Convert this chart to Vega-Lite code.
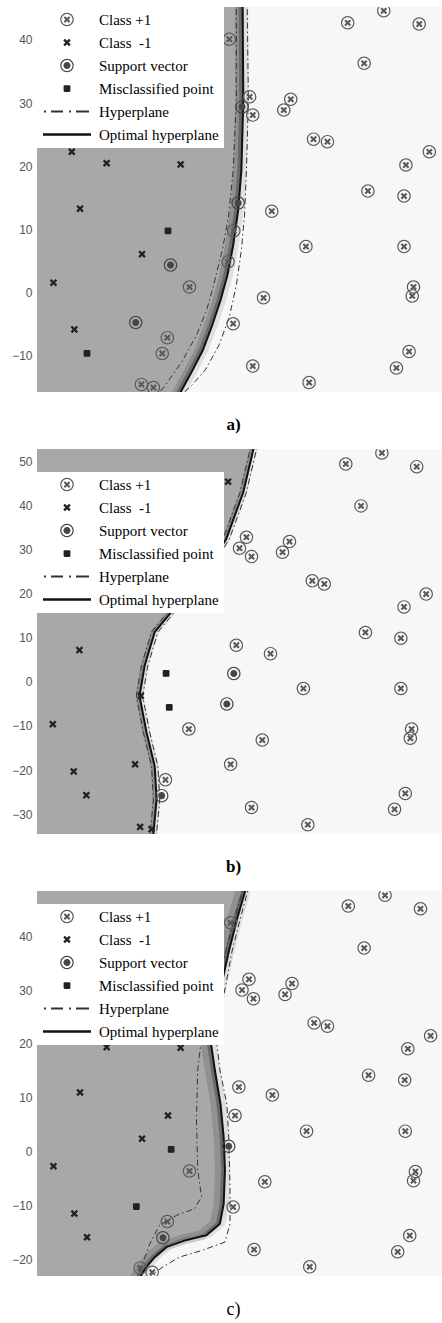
{
  "$schema": "https://vega.github.io/schema/vega-lite/v6.json",
  "padding": {"left": 0, "top": 7, "right": 0, "bottom": 0},
  "background": "white",
  "spacing": 16,
  "config": {
    "view": {"stroke": null, "fill": "#f7f7f7"},
    "axisY": {"ticks": false, "domain": false, "grid": false, "labelFont": "Liberation Sans", "labelFontSize": 12, "labelColor": "#555555", "labelPadding": 5, "minExtent": 37, "maxExtent": 37},
    "legend": {"fillColor": "white", "padding": 5, "symbolSize": 225, "symbolOffset": 17.5, "labelOffset": 24.5, "labelFont": "Liberation Serif", "labelFontSize": 15, "labelColor": "#000000", "rowPadding": 7, "symbolStrokeWidth": 0, "labelLimit": 300},
    "title": {"font": "Liberation Serif", "fontSize": 17, "color": "#000000", "orient": "bottom", "anchor": "middle", "frame": "group", "offset": 25, "dx": -6}
  },
  "datasets": {
    "a_pts": [
      {"x":30.4,"y":40.1,"c":"Class +1"},{"x":33.6,"y":31.0,"c":"Class +1"},{"x":34.1,"y":28.1,"c":"Class +1"},{"x":40.1,"y":30.6,"c":"Class +1"},{"x":39.0,"y":28.9,"c":"Class +1"},{"x":43.7,"y":24.3,"c":"Class +1"},{"x":45.9,"y":23.9,"c":"Class +1"},{"x":49.1,"y":42.7,"c":"Class +1"},{"x":54.8,"y":44.6,"c":"Class +1"},{"x":60.4,"y":42.5,"c":"Class +1"},{"x":51.7,"y":36.3,"c":"Class +1"},{"x":62.0,"y":22.3,"c":"Class +1"},{"x":58.3,"y":20.2,"c":"Class +1"},{"x":52.3,"y":16.1,"c":"Class +1"},{"x":58.0,"y":15.3,"c":"Class +1"},{"x":37.1,"y":12.9,"c":"Class +1"},{"x":31.1,"y":9.8,"c":"Class +1"},{"x":30.2,"y":4.9,"c":"Class +1"},{"x":42.5,"y":7.3,"c":"Class +1"},{"x":58.0,"y":7.3,"c":"Class +1"},{"x":59.5,"y":0.9,"c":"Class +1"},{"x":59.3,"y":-0.5,"c":"Class +1"},{"x":24.1,"y":0.9,"c":"Class +1"},{"x":35.8,"y":-0.8,"c":"Class +1"},{"x":31.0,"y":-4.9,"c":"Class +1"},{"x":20.6,"y":-7.1,"c":"Class +1"},{"x":19.8,"y":-9.6,"c":"Class +1"},{"x":34.1,"y":-11.6,"c":"Class +1"},{"x":58.8,"y":-9.3,"c":"Class +1"},{"x":56.8,"y":-11.9,"c":"Class +1"},{"x":43.0,"y":-14.2,"c":"Class +1"},{"x":16.5,"y":-14.5,"c":"Class +1"},{"x":18.4,"y":-15.0,"c":"Class +1"},
      {"x":32.4,"y":29.4,"c":"Support vector"},{"x":31.8,"y":14.2,"c":"Support vector"},{"x":21.1,"y":4.4,"c":"Support vector"},{"x":15.6,"y":-4.7,"c":"Support vector"},
      {"x":20.7,"y":9.8,"c":"Misclassified point"},{"x":7.9,"y":-9.6,"c":"Misclassified point"},
      {"x":5.5,"y":22.3,"c":"Class\u00a0 -1"},{"x":11.0,"y":20.5,"c":"Class\u00a0 -1"},{"x":22.7,"y":20.3,"c":"Class\u00a0 -1"},{"x":6.8,"y":13.3,"c":"Class\u00a0 -1"},{"x":16.6,"y":6.1,"c":"Class\u00a0 -1"},{"x":2.6,"y":1.6,"c":"Class\u00a0 -1"},{"x":5.9,"y":-5.8,"c":"Class\u00a0 -1"}
    ],
    "a_opt": [
      {"x":32.5,"y":47},{"x":32.5,"y":45.2},{"x":32.6,"y":30.5},{"x":32.3,"y":19.4},{"x":31.8,"y":13.1},{"x":31.0,"y":7.5},{"x":30.1,"y":2.8},{"x":29.0,"y":-1.2},{"x":27.7,"y":-5.1},{"x":26.2,"y":-9.1},{"x":24.4,"y":-12.6},{"x":22.7,"y":-15.7},{"x":22.2,"y":-16.5}
    ],
    "a_hl": [
      {"x":31.5,"y":47},{"x":31.5,"y":30.5},{"x":31.0,"y":19.4},{"x":30.3,"y":12.3},{"x":29.3,"y":6.8},{"x":27.9,"y":1.2},{"x":26.8,"y":-2.8},{"x":25.2,"y":-6.7},{"x":22.9,"y":-10.9},{"x":20.3,"y":-14.6},{"x":19.4,"y":-15.7},{"x":18.8,"y":-16.5}
    ],
    "a_hr": [
      {"x":33.2,"y":47},{"x":33.4,"y":30.5},{"x":33.1,"y":19.4},{"x":32.8,"y":12.3},{"x":32.3,"y":6.8},{"x":31.5,"y":1.2},{"x":30.4,"y":-3.8},{"x":28.8,"y":-8.2},{"x":26.6,"y":-12.2},{"x":24.5,"y":-14.6},{"x":23.3,"y":-15.7},{"x":22.7,"y":-16.5}
    ],
    "b_pts": [
      {"x":33.1,"y":32.8,"c":"Class +1"},{"x":32.0,"y":30.3,"c":"Class +1"},{"x":33.9,"y":28.4,"c":"Class +1"},{"x":39.9,"y":31.8,"c":"Class +1"},{"x":38.8,"y":29.4,"c":"Class +1"},{"x":43.5,"y":22.9,"c":"Class +1"},{"x":45.4,"y":22.2,"c":"Class +1"},{"x":48.8,"y":49.4,"c":"Class +1"},{"x":54.5,"y":51.9,"c":"Class +1"},{"x":60.0,"y":48.8,"c":"Class +1"},{"x":51.2,"y":39.9,"c":"Class +1"},{"x":61.5,"y":19.9,"c":"Class +1"},{"x":58.0,"y":17.0,"c":"Class +1"},{"x":51.9,"y":11.2,"c":"Class +1"},{"x":57.5,"y":9.9,"c":"Class +1"},{"x":31.5,"y":8.3,"c":"Class +1"},{"x":36.9,"y":6.4,"c":"Class +1"},{"x":42.1,"y":-1.5,"c":"Class +1"},{"x":57.5,"y":-1.5,"c":"Class +1"},{"x":59.2,"y":-10.7,"c":"Class +1"},{"x":59.0,"y":-12.8,"c":"Class +1"},{"x":24.0,"y":-10.7,"c":"Class +1"},{"x":35.6,"y":-13.2,"c":"Class +1"},{"x":30.6,"y":-18.7,"c":"Class +1"},{"x":20.3,"y":-22.2,"c":"Class +1"},{"x":33.9,"y":-28.5,"c":"Class +1"},{"x":42.8,"y":-32.4,"c":"Class +1"},{"x":58.2,"y":-25.3,"c":"Class +1"},{"x":56.5,"y":-28.9,"c":"Class +1"},
      {"x":31.1,"y":1.9,"c":"Support vector"},{"x":30.0,"y":-5.0,"c":"Support vector"},{"x":19.7,"y":-25.8,"c":"Support vector"},
      {"x":20.4,"y":1.9,"c":"Misclassified point"},{"x":20.9,"y":-5.8,"c":"Misclassified point"},
      {"x":30.2,"y":45.4,"c":"Class\u00a0 -1"},{"x":6.7,"y":7.2,"c":"Class\u00a0 -1"},{"x":2.5,"y":-9.6,"c":"Class\u00a0 -1"},{"x":16.4,"y":-3.2,"c":"Class\u00a0 -1"},{"x":15.5,"y":-18.7,"c":"Class\u00a0 -1"},{"x":5.8,"y":-20.3,"c":"Class\u00a0 -1"},{"x":7.8,"y":-25.7,"c":"Class\u00a0 -1"},{"x":16.3,"y":-32.9,"c":"Class\u00a0 -1"},{"x":18.1,"y":-33.4,"c":"Class\u00a0 -1"}
    ],
    "b_opt": [
      {"x":34.7,"y":55},{"x":34.2,"y":52.8},{"x":32.6,"y":43.0},{"x":29.9,"y":32.4},{"x":26.0,"y":23.3},{"x":21.2,"y":15.8},{"x":18.6,"y":11.3},{"x":17.0,"y":3.6},{"x":16.2,"y":-3.2},{"x":17.3,"y":-11.4},{"x":18.6,"y":-19.1},{"x":18.9,"y":-26.6},{"x":18.4,"y":-34.3},{"x":18.3,"y":-36}
    ],
    "b_hl": [
      {"x":34.2,"y":55},{"x":33.7,"y":52.8},{"x":32.1,"y":43.0},{"x":29.4,"y":32.4},{"x":25.5,"y":23.3},{"x":20.7,"y":15.8},{"x":18.1,"y":11.3},{"x":16.5,"y":3.6},{"x":15.7,"y":-3.2},{"x":16.8,"y":-11.4},{"x":18.1,"y":-19.1},{"x":18.4,"y":-26.6},{"x":17.9,"y":-34.3},{"x":17.8,"y":-36}
    ],
    "b_hr": [
      {"x":35.2,"y":55},{"x":34.7,"y":52.8},{"x":33.1,"y":43.0},{"x":30.4,"y":32.4},{"x":26.5,"y":23.3},{"x":21.7,"y":15.8},{"x":19.1,"y":11.3},{"x":17.5,"y":3.6},{"x":16.7,"y":-3.2},{"x":17.8,"y":-11.4},{"x":19.1,"y":-19.1},{"x":19.4,"y":-26.6},{"x":18.9,"y":-34.3},{"x":18.8,"y":-36}
    ],
    "c_pts": [
      {"x":30.6,"y":42.5,"c":"Class +1"},{"x":33.5,"y":32.0,"c":"Class +1"},{"x":32.4,"y":30.0,"c":"Class +1"},{"x":34.2,"y":28.4,"c":"Class +1"},{"x":40.3,"y":31.2,"c":"Class +1"},{"x":39.2,"y":29.2,"c":"Class +1"},{"x":43.8,"y":23.9,"c":"Class +1"},{"x":45.9,"y":23.3,"c":"Class +1"},{"x":49.2,"y":45.6,"c":"Class +1"},{"x":55.0,"y":47.6,"c":"Class +1"},{"x":60.6,"y":45.1,"c":"Class +1"},{"x":51.7,"y":37.8,"c":"Class +1"},{"x":62.2,"y":21.5,"c":"Class +1"},{"x":58.6,"y":19.1,"c":"Class +1"},{"x":52.4,"y":14.2,"c":"Class +1"},{"x":58.1,"y":13.3,"c":"Class +1"},{"x":31.9,"y":12.0,"c":"Class +1"},{"x":37.2,"y":10.5,"c":"Class +1"},{"x":31.3,"y":6.7,"c":"Class +1"},{"x":42.6,"y":3.8,"c":"Class +1"},{"x":58.2,"y":3.8,"c":"Class +1"},{"x":59.8,"y":-3.7,"c":"Class +1"},{"x":59.5,"y":-5.4,"c":"Class +1"},{"x":24.1,"y":-3.6,"c":"Class +1"},{"x":36.0,"y":-5.6,"c":"Class +1"},{"x":31.0,"y":-10.3,"c":"Class +1"},{"x":20.6,"y":-13.0,"c":"Class +1"},{"x":34.3,"y":-18.2,"c":"Class +1"},{"x":43.1,"y":-21.4,"c":"Class +1"},{"x":58.9,"y":-15.6,"c":"Class +1"},{"x":57.0,"y":-18.6,"c":"Class +1"},{"x":16.3,"y":-21.6,"c":"Class +1"},{"x":18.2,"y":-22.4,"c":"Class +1"},
      {"x":30.3,"y":1.0,"c":"Support vector"},{"x":19.9,"y":-16.0,"c":"Support vector"},
      {"x":21.2,"y":0.4,"c":"Misclassified point"},{"x":15.7,"y":-10.2,"c":"Misclassified point"},
      {"x":11.0,"y":19.4,"c":"Class\u00a0 -1"},{"x":22.7,"y":19.3,"c":"Class\u00a0 -1"},{"x":6.8,"y":11.0,"c":"Class\u00a0 -1"},{"x":20.7,"y":6.7,"c":"Class\u00a0 -1"},{"x":16.6,"y":2.4,"c":"Class\u00a0 -1"},{"x":2.6,"y":-2.7,"c":"Class\u00a0 -1"},{"x":5.9,"y":-11.5,"c":"Class\u00a0 -1"},{"x":7.9,"y":-15.9,"c":"Class\u00a0 -1"}
    ],
    "c_opt": [
      {"x":33.3,"y":50},{"x":32.9,"y":48.4},{"x":31.7,"y":43.6},{"x":30.3,"y":37.1},{"x":28.9,"y":29.7},{"x":27.8,"y":23.2},{"x":27.5,"y":20.0},{"x":28.1,"y":15.2},{"x":29.0,"y":8.8},{"x":29.5,"y":2.7},{"x":29.7,"y":-3.4},{"x":29.5,"y":-9.7},{"x":28.9,"y":-13.4},{"x":26.8,"y":-15.5},{"x":23.6,"y":-16.4},{"x":20.5,"y":-17.7},{"x":18.6,"y":-19.6},{"x":17.3,"y":-21.4},{"x":16.5,"y":-22.9},{"x":16.2,"y":-24}
    ],
    "c_hl": [
      {"x":32.9,"y":50},{"x":32.5,"y":48.4},{"x":31.3,"y":43.6},{"x":29.8,"y":37.1},{"x":25.9,"y":20.0},{"x":25.4,"y":15.2},{"x":25.2,"y":5.9},{"x":25.4,"y":-3.4},{"x":26.0,"y":-8.4},{"x":24.9,"y":-10.6},{"x":22.1,"y":-11.8},{"x":19.4,"y":-13.6},{"x":17.8,"y":-17.2},{"x":16.5,"y":-21.4},{"x":15.9,"y":-23.0},{"x":15.7,"y":-24}
    ],
    "c_hr": [
      {"x":33.7,"y":50},{"x":33.3,"y":48.4},{"x":32.2,"y":43.6},{"x":30.8,"y":37.1},{"x":28.3,"y":21.3},{"x":28.9,"y":15.2},{"x":30.0,"y":8.8},{"x":30.3,"y":2.7},{"x":30.5,"y":-6.6},{"x":30.5,"y":-13.4},{"x":29.7,"y":-16.8},{"x":26.2,"y":-18.3},{"x":22.5,"y":-19.6},{"x":19.9,"y":-21.4},{"x":17.8,"y":-23.2},{"x":17.4,"y":-24}
    ]
  },
  "vconcat": [
    {
      "width": 405, "height": 385,
      "title": {"text": "a)", "fontWeight": "bold"},
      "encoding": {
        "x": {"field": "x", "type": "quantitative", "scale": {"domain": [0, 64], "nice": false, "zero": false}, "axis": null},
        "y": {"field": "y", "type": "quantitative", "scale": {"domain": [-15.7, 45.2], "nice": false, "zero": false}, "axis": {"values": [-10, 0, 10, 20, 30, 40], "title": null, "labelColor": "#555555"}}
      },
      "layer": [
        {"data": {"name": "a_opt"}, "mark": {"type": "area", "orient": "horizontal", "color": "#a8a8a8", "clip": true}, "encoding": {"x2": {"datum": 0}}},
        {"data": {"name": "a_opt"}, "mark": {"type": "line", "xOffset": -4, "strokeWidth": 8, "color": "#555555", "opacity": 0.3, "clip": true}, "encoding": {"order": {"value": null}}},
        {"data": {"name": "a_opt"}, "mark": {"type": "line", "xOffset": -2, "strokeWidth": 4, "color": "#333333", "opacity": 0.4, "clip": true}, "encoding": {"order": {"value": null}}},
        {"data": {"name": "a_opt"}, "mark": {"type": "line", "xOffset": 3, "strokeWidth": 5, "color": "#cfcfcf", "opacity": 0.6, "clip": true}, "encoding": {"order": {"value": null}}},
        {"data": {"name": "a_opt"}, "mark": {"type": "line", "strokeWidth": 2, "color": "#111111", "clip": true}, "encoding": {"order": {"value": null}}},
        {"data": {"name": "a_hl"}, "mark": {"type": "line", "strokeWidth": 1, "color": "#333333", "strokeDash": [6, 3, 1.5, 3], "clip": true}, "encoding": {"order": {"value": null}}},
        {"data": {"name": "a_hr"}, "mark": {"type": "line", "strokeWidth": 1, "color": "#333333", "strokeDash": [6, 3, 1.5, 3], "clip": true}, "encoding": {"order": {"value": null}}},
        {
          "data": {"name": "a_pts"},
          "mark": {"type": "point", "filled": true, "size": 225, "strokeWidth": 0, "opacity": 1, "clip": true},
          "encoding": {
            "shape": {"field": "c", "type": "nominal",
              "scale": {"domain": ["Class +1", "Class\u00a0 -1", "Support vector", "Misclassified point", "Hyperplane", "Optimal hyperplane"],
                "range": [
                  "M0.9,0A0.9,0.9,0,1,1,-0.9,0A0.9,0.9,0,1,1,0.9,0ZM0.74,0A0.74,0.74,0,1,0,-0.74,0A0.74,0.74,0,1,0,0.74,0ZM-0.45,-0.25L-0.25,-0.45L0,-0.2L0.25,-0.45L0.45,-0.25L0.2,0L0.45,0.25L0.25,0.45L0,0.2L-0.25,0.45L-0.45,0.25L-0.2,0Z",
                  "M-0.5,-0.28L-0.28,-0.5L0,-0.22L0.28,-0.5L0.5,-0.28L0.22,0L0.5,0.28L0.28,0.5L0,0.22L-0.28,0.5L-0.5,0.28L-0.22,0Z",
                  "M0.9,0A0.9,0.9,0,1,1,-0.9,0A0.9,0.9,0,1,1,0.9,0ZM0.74,0A0.74,0.74,0,1,0,-0.74,0A0.74,0.74,0,1,0,0.74,0ZM0.47,0A0.47,0.47,0,1,1,-0.47,0A0.47,0.47,0,1,1,0.47,0Z",
                  "M-0.45,-0.3Q-0.45,-0.45,-0.3,-0.45L0.3,-0.45Q0.45,-0.45,0.45,-0.3L0.45,0.3Q0.45,0.45,0.3,0.45L-0.3,0.45Q-0.45,0.45,-0.45,0.3Z",
                  "M-3.07,-0.13H-2.8V0.13H-3.07ZM-2.13,-0.13H-0.53V0.13H-2.13ZM0.27,-0.13H0.53V0.13H0.27ZM1.2,-0.13H2.93V0.13H1.2Z",
                  "M-3.2,-0.17H3.2V0.17H-3.2Z"
                ]},
              "legend": {"title": null, "orient": "none", "legendX": 0, "legendY": 0, "encode": {"symbols": {"update": {"fill": {"value": "#111111"}, "opacity": {"value": 1}}}}}
            },
            "color": {"field": "c", "type": "nominal",
              "scale": {"domain": ["Class +1", "Class\u00a0 -1", "Support vector", "Misclassified point", "Hyperplane", "Optimal hyperplane"], "range": ["#5a5a5a", "#222222", "#464646", "#222222", "#333333", "#111111"]},
              "legend": {"title": null, "orient": "none", "legendX": 0, "legendY": 0, "encode": {"symbols": {"update": {"fill": {"value": "#111111"}, "opacity": {"value": 1}}}}}
            }
          }
        }
      ]
    },
    {
      "width": 405, "height": 385,
      "title": {"text": "b)", "fontWeight": "bold"},
      "encoding": {
        "x": {"field": "x", "type": "quantitative", "scale": {"domain": [0, 64], "nice": false, "zero": false}, "axis": null},
        "y": {"field": "y", "type": "quantitative", "scale": {"domain": [-34.5, 52.8], "nice": false, "zero": false}, "axis": {"values": [-30, -20, -10, 0, 10, 20, 30, 40, 50], "title": null, "labelColor": "#555555"}}
      },
      "layer": [
        {"data": {"name": "b_opt"}, "mark": {"type": "area", "orient": "horizontal", "color": "#a8a8a8", "clip": true}, "encoding": {"x2": {"datum": 0}}},
        {"data": {"name": "b_opt"}, "mark": {"type": "line", "xOffset": -2, "strokeWidth": 4, "color": "#555555", "opacity": 0.3, "clip": true}, "encoding": {"order": {"value": null}}},
        {"data": {"name": "b_opt"}, "mark": {"type": "line", "xOffset": 2, "strokeWidth": 4, "color": "#cfcfcf", "opacity": 0.6, "clip": true}, "encoding": {"order": {"value": null}}},
        {"data": {"name": "b_opt"}, "mark": {"type": "line", "strokeWidth": 2, "color": "#111111", "clip": true}, "encoding": {"order": {"value": null}}},
        {"data": {"name": "b_hl"}, "mark": {"type": "line", "strokeWidth": 1, "color": "#333333", "strokeDash": [6, 3, 1.5, 3], "clip": true}, "encoding": {"order": {"value": null}}},
        {"data": {"name": "b_hr"}, "mark": {"type": "line", "strokeWidth": 1, "color": "#333333", "strokeDash": [6, 3, 1.5, 3], "clip": true}, "encoding": {"order": {"value": null}}},
        {
          "data": {"name": "b_pts"},
          "mark": {"type": "point", "filled": true, "size": 225, "strokeWidth": 0, "opacity": 1, "clip": true},
          "encoding": {
            "shape": {"field": "c", "type": "nominal",
              "scale": {"domain": ["Class +1", "Class\u00a0 -1", "Support vector", "Misclassified point", "Hyperplane", "Optimal hyperplane"],
                "range": [
                  "M0.9,0A0.9,0.9,0,1,1,-0.9,0A0.9,0.9,0,1,1,0.9,0ZM0.74,0A0.74,0.74,0,1,0,-0.74,0A0.74,0.74,0,1,0,0.74,0ZM-0.45,-0.25L-0.25,-0.45L0,-0.2L0.25,-0.45L0.45,-0.25L0.2,0L0.45,0.25L0.25,0.45L0,0.2L-0.25,0.45L-0.45,0.25L-0.2,0Z",
                  "M-0.5,-0.28L-0.28,-0.5L0,-0.22L0.28,-0.5L0.5,-0.28L0.22,0L0.5,0.28L0.28,0.5L0,0.22L-0.28,0.5L-0.5,0.28L-0.22,0Z",
                  "M0.9,0A0.9,0.9,0,1,1,-0.9,0A0.9,0.9,0,1,1,0.9,0ZM0.74,0A0.74,0.74,0,1,0,-0.74,0A0.74,0.74,0,1,0,0.74,0ZM0.47,0A0.47,0.47,0,1,1,-0.47,0A0.47,0.47,0,1,1,0.47,0Z",
                  "M-0.45,-0.3Q-0.45,-0.45,-0.3,-0.45L0.3,-0.45Q0.45,-0.45,0.45,-0.3L0.45,0.3Q0.45,0.45,0.3,0.45L-0.3,0.45Q-0.45,0.45,-0.45,0.3Z",
                  "M-3.07,-0.13H-2.8V0.13H-3.07ZM-2.13,-0.13H-0.53V0.13H-2.13ZM0.27,-0.13H0.53V0.13H0.27ZM1.2,-0.13H2.93V0.13H1.2Z",
                  "M-3.2,-0.17H3.2V0.17H-3.2Z"
                ]},
              "legend": {"title": null, "orient": "none", "legendX": 0, "legendY": 23, "encode": {"symbols": {"update": {"fill": {"value": "#111111"}, "opacity": {"value": 1}}}}}
            },
            "color": {"field": "c", "type": "nominal",
              "scale": {"domain": ["Class +1", "Class\u00a0 -1", "Support vector", "Misclassified point", "Hyperplane", "Optimal hyperplane"], "range": ["#5a5a5a", "#222222", "#464646", "#222222", "#333333", "#111111"]},
              "legend": {"title": null, "orient": "none", "legendX": 0, "legendY": 23, "encode": {"symbols": {"update": {"fill": {"value": "#111111"}, "opacity": {"value": 1}}}}}
            }
          }
        }
      ]
    },
    {
      "width": 405, "height": 385,
      "title": {"text": "c)", "fontWeight": "normal", "fontSize": 18},
      "encoding": {
        "x": {"field": "x", "type": "quantitative", "scale": {"domain": [0, 64], "nice": false, "zero": false}, "axis": null},
        "y": {"field": "y", "type": "quantitative", "scale": {"domain": [-23.1, 48.4], "nice": false, "zero": false}, "axis": {"values": [-20, -10, 0, 10, 20, 30, 40], "title": null, "labelColor": "#555555"}}
      },
      "layer": [
        {"data": {"name": "c_opt"}, "mark": {"type": "area", "orient": "horizontal", "color": "#a8a8a8", "clip": true}, "encoding": {"x2": {"datum": 0}}},
        {"data": {"name": "c_opt"}, "mark": {"type": "line", "xOffset": -5, "strokeWidth": 10, "color": "#555555", "opacity": 0.28, "clip": true}, "encoding": {"order": {"value": null}}},
        {"data": {"name": "c_opt"}, "mark": {"type": "line", "xOffset": -2, "strokeWidth": 4, "color": "#333333", "opacity": 0.4, "clip": true}, "encoding": {"order": {"value": null}}},
        {"data": {"name": "c_opt"}, "mark": {"type": "line", "xOffset": 3, "strokeWidth": 5, "color": "#cfcfcf", "opacity": 0.6, "clip": true}, "encoding": {"order": {"value": null}}},
        {"data": {"name": "c_opt"}, "mark": {"type": "line", "strokeWidth": 2, "color": "#111111", "clip": true}, "encoding": {"order": {"value": null}}},
        {"data": {"name": "c_hl"}, "mark": {"type": "line", "strokeWidth": 1, "color": "#333333", "strokeDash": [6, 3, 1.5, 3], "clip": true}, "encoding": {"order": {"value": null}}},
        {"data": {"name": "c_hr"}, "mark": {"type": "line", "strokeWidth": 1, "color": "#333333", "strokeDash": [6, 3, 1.5, 3], "clip": true}, "encoding": {"order": {"value": null}}},
        {
          "data": {"name": "c_pts"},
          "mark": {"type": "point", "filled": true, "size": 225, "strokeWidth": 0, "opacity": 1, "clip": true},
          "encoding": {
            "shape": {"field": "c", "type": "nominal",
              "scale": {"domain": ["Class +1", "Class\u00a0 -1", "Support vector", "Misclassified point", "Hyperplane", "Optimal hyperplane"],
                "range": [
                  "M0.9,0A0.9,0.9,0,1,1,-0.9,0A0.9,0.9,0,1,1,0.9,0ZM0.74,0A0.74,0.74,0,1,0,-0.74,0A0.74,0.74,0,1,0,0.74,0ZM-0.45,-0.25L-0.25,-0.45L0,-0.2L0.25,-0.45L0.45,-0.25L0.2,0L0.45,0.25L0.25,0.45L0,0.2L-0.25,0.45L-0.45,0.25L-0.2,0Z",
                  "M-0.5,-0.28L-0.28,-0.5L0,-0.22L0.28,-0.5L0.5,-0.28L0.22,0L0.5,0.28L0.28,0.5L0,0.22L-0.28,0.5L-0.5,0.28L-0.22,0Z",
                  "M0.9,0A0.9,0.9,0,1,1,-0.9,0A0.9,0.9,0,1,1,0.9,0ZM0.74,0A0.74,0.74,0,1,0,-0.74,0A0.74,0.74,0,1,0,0.74,0ZM0.47,0A0.47,0.47,0,1,1,-0.47,0A0.47,0.47,0,1,1,0.47,0Z",
                  "M-0.45,-0.3Q-0.45,-0.45,-0.3,-0.45L0.3,-0.45Q0.45,-0.45,0.45,-0.3L0.45,0.3Q0.45,0.45,0.3,0.45L-0.3,0.45Q-0.45,0.45,-0.45,0.3Z",
                  "M-3.07,-0.13H-2.8V0.13H-3.07ZM-2.13,-0.13H-0.53V0.13H-2.13ZM0.27,-0.13H0.53V0.13H0.27ZM1.2,-0.13H2.93V0.13H1.2Z",
                  "M-3.2,-0.17H3.2V0.17H-3.2Z"
                ]},
              "legend": {"title": null, "orient": "none", "legendX": 0, "legendY": 13, "encode": {"symbols": {"update": {"fill": {"value": "#111111"}, "opacity": {"value": 1}}}}}
            },
            "color": {"field": "c", "type": "nominal",
              "scale": {"domain": ["Class +1", "Class\u00a0 -1", "Support vector", "Misclassified point", "Hyperplane", "Optimal hyperplane"], "range": ["#5a5a5a", "#222222", "#464646", "#222222", "#333333", "#111111"]},
              "legend": {"title": null, "orient": "none", "legendX": 0, "legendY": 13, "encode": {"symbols": {"update": {"fill": {"value": "#111111"}, "opacity": {"value": 1}}}}}
            }
          }
        }
      ]
    }
  ],
  "resolve": {
    "scale": {"x": "independent", "y": "independent", "shape": "independent", "color": "independent"},
    "legend": {"shape": "independent", "color": "independent"}
  }
}
